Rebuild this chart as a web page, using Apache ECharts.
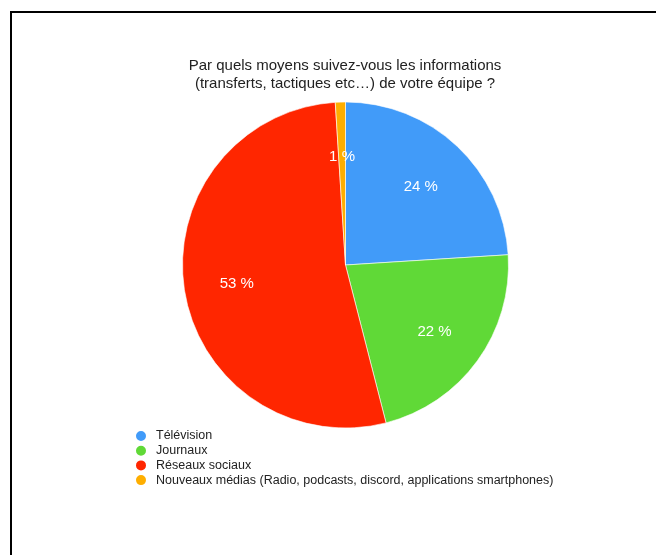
<!DOCTYPE html>
<html>
<head>
<meta charset="utf-8">
<script src="https://cdn.jsdelivr.net/npm/echarts@6/dist/echarts.min.js"></script>
<style>
html,body{margin:0;padding:0;background:#fff;overflow:hidden;}
#c{width:690px;height:555px;}
</style>
</head>
<body>
<div id="c"></div>
<script>
const titleLines = ["Par quels moyens suivez-vous les informations", "(transferts, tactiques etc…) de votre équipe ?"];
const categories = ["Télévision", "Journaux", "Réseaux sociaux", "Nouveaux médias (Radio, podcasts, discord, applications smartphones)"];
const values = [24, 22, 53, 1];
const colors = ["#419BF9", "#60D937", "#FF2600", "#FEAE00"];

const FONT = "'Helvetica Neue', Helvetica, 'Liberation Sans', Arial, sans-serif";
const data = categories.map((n, i) => ({ name: n, value: values[i], itemStyle: { color: colors[i] } }));
const labelData = categories.map((n, i) => ({ name: n, value: values[i] }));

const chart = echarts.init(document.getElementById('c'), null, { renderer: 'canvas' });
chart.setOption({
  animation: false,
  backgroundColor: '#ffffff',
  title: {
    text: titleLines.join('\n'),
    left: 'center',
    top: 52,
    textStyle: { fontFamily: FONT, fontSize: 15, fontWeight: 'normal', color: '#222', lineHeight: 18 }
  },
  legend: {
    orient: 'vertical',
    left: 134,
    top: 429,
    padding: 0,
    itemWidth: 12,
    itemHeight: 12,
    itemGap: 0.7,
    icon: 'circle',
    data: categories,
    selectedMode: false,
    textStyle: { fontFamily: FONT, fontSize: 12.5, color: '#222', lineHeight: 14, padding: [0, 0, 0, 4] }
  },
  graphic: [
    { type: 'line', shape: { x1: 11, y1: 12, x2: 700, y2: 12 }, style: { stroke: '#000', lineWidth: 2 }, silent: true },
    { type: 'line', shape: { x1: 11, y1: 11, x2: 11, y2: 560 }, style: { stroke: '#000', lineWidth: 2 }, silent: true }
  ],
  series: [
    {
      type: 'pie',
      center: [345.5, 265],
      radius: [0, 163],
      startAngle: 90,
      clockwise: true,
      data: data,
      label: { show: false },
      labelLine: { show: false },
      itemStyle: { borderColor: '#ffffff', borderWidth: 0.6 },
      silent: true
    },
    {
      type: 'pie',
      center: [345.5, 267],
      radius: [0, 214],
      startAngle: 90,
      clockwise: true,
      data: labelData,
      itemStyle: { color: 'rgba(0,0,0,0)', borderWidth: 0 },
      label: {
        show: true,
        position: 'inside',
        formatter: '{c} %',
        color: '#ffffff',
        fontFamily: FONT,
        fontSize: 15
      },
      labelLine: { show: false },
      silent: true,
      z: 5
    }
  ]
});
</script>
</body>
</html>
